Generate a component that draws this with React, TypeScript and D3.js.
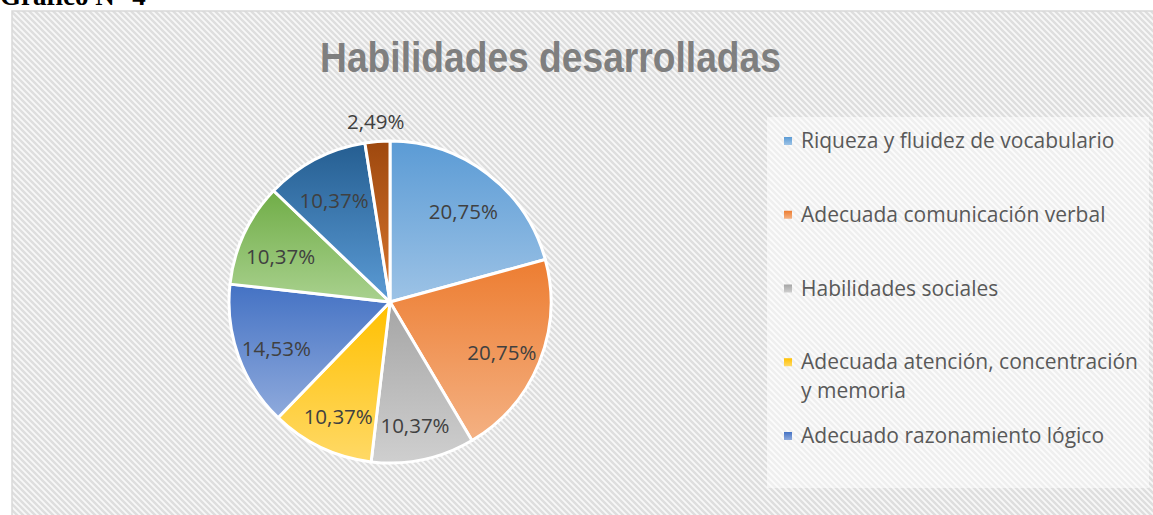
import React, { useEffect, useRef } from "react";
import * as d3 from "d3";

const categories = [
  "Riqueza y fluidez de vocabulario",
  "Adecuada comunicación verbal",
  "Habilidades sociales",
  "Adecuada atención, concentración y memoria",
  "Adecuado razonamiento lógico",
  "",
  "",
  "",
];
const values = [20.75, 20.75, 10.37, 10.37, 14.53, 10.37, 10.37, 2.49];
const labels = ["20,75%", "20,75%", "10,37%", "10,37%", "14,53%", "10,37%", "10,37%", "2,49%"];
const topColors = ["#5B9BD5", "#ED7D31", "#A5A5A5", "#FFC000", "#4472C4", "#70AD47", "#255E91", "#9E480E"];
const bottomColors = ["#9DC3E6", "#F4B183", "#CFCFCF", "#FFD966", "#8FAADC", "#A9D18E", "#5B9BD5", "#D9772F"];
const legendShown = 5;
const title = "Habilidades desarrolladas";
const caption = "Gráfico N° 4";

const W = 1153;
const H = 515;

function wrap(text: string, maxW: number, font: string): string[] {
  const c = document.createElement("canvas").getContext("2d")!;
  c.font = font;
  const words = text.split(" ");
  const lines: string[] = [];
  let cur = "";
  for (const w of words) {
    const t = cur ? cur + " " + w : w;
    if (c.measureText(t).width > maxW && cur) {
      lines.push(cur);
      cur = w;
    } else cur = t;
  }
  if (cur) lines.push(cur);
  return lines;
}

export default function App() {
  const ref = useRef<SVGSVGElement>(null);
  useEffect(() => {
    const svg = d3.select(ref.current!);
    svg.selectAll("*").remove();
    const defs = svg.append("defs");
    const P = 6;
    const pat = defs
      .append("pattern")
      .attr("id", "stripes")
      .attr("patternUnits", "userSpaceOnUse")
      .attr("width", P)
      .attr("height", P);
    pat.append("rect").attr("width", P).attr("height", P).attr("fill", "#f8f8f8");
    pat
      .append("path")
      .attr("d", `M0,0 L${P},${P} M${-P / 2},${P / 2} L${P / 2},${P * 1.5} M${P / 2},${-P / 2} L${P * 1.5},${P / 2}`)
      .attr("stroke", "#dedede")
      .attr("stroke-width", 2.4);

    topColors.forEach((c, i) => {
      const g = defs
        .append("linearGradient")
        .attr("id", "g" + i)
        .attr("x1", 0)
        .attr("y1", 0)
        .attr("x2", 0)
        .attr("y2", 1);
      g.append("stop").attr("offset", "0%").attr("stop-color", c);
      g.append("stop").attr("offset", "100%").attr("stop-color", bottomColors[i]);
    });

    svg.append("rect").attr("width", W).attr("height", H).attr("fill", "#ffffff");
    svg
      .append("rect")
      .attr("x", 12)
      .attr("y", 11)
      .attr("width", W + 10)
      .attr("height", H + 10)
      .attr("fill", "url(#stripes)")
      .attr("stroke", "#d9d9d9")
      .attr("stroke-width", 1.5);

    svg
      .append("text")
      .attr("x", 0)
      .attr("y", 5)
      .attr("font-family", "Liberation Serif, Times New Roman, serif")
      .attr("font-weight", "bold")
      .attr("font-size", 27)
      .attr("fill", "#000")
      .text(caption);

    svg
      .append("text")
      .attr("transform", "translate(550.5,72) scale(0.865,1)")
      .attr("text-anchor", "middle")
      .attr("font-family", "Liberation Sans, Arial, sans-serif")
      .attr("font-weight", "bold")
      .attr("font-size", 43)
      .attr("fill", "#7f7f7f")
      .text(title);

    // legend box
    svg
      .append("rect")
      .attr("x", 767)
      .attr("y", 117)
      .attr("width", 382)
      .attr("height", 371)
      .attr("fill", "#ffffff")
      .attr("opacity", 0.5);

    const cx = 390;
    const cy = 302;
    const r = 161;
    const pie = d3.pie<number>().sort(null).value((d) => d);
    const arcs = pie(values);
    const arc = d3.arc<d3.PieArcDatum<number>>().innerRadius(0).outerRadius(r);
    const lr = r * 0.75;
    const labelArc = d3.arc<d3.PieArcDatum<number>>().innerRadius(lr).outerRadius(lr);
    const outArc = d3.arc<d3.PieArcDatum<number>>().innerRadius(r + 21).outerRadius(r + 21);

    const g = svg.append("g").attr("transform", `translate(${cx},${cy})`);
    g.selectAll("path.slice")
      .data(arcs)
      .join("path")
      .attr("class", "slice")
      .attr("d", arc)
      .attr("fill", (_, i) => `url(#g${i})`)
      .attr("stroke", "#ffffff")
      .attr("stroke-width", 3)
      .attr("stroke-linejoin", "round");

    g.selectAll("text.lbl")
      .data(arcs)
      .join("text")
      .attr("class", "lbl")
      .attr("transform", (d) => {
        const p = d.data < 5 ? outArc.centroid(d) : labelArc.centroid(d);
        return `translate(${p[0]},${p[1] + (d.data < 5 ? 0 : 5)})`;
      })
      .attr("text-anchor", "middle")
      .attr("dominant-baseline", "central")
      .attr("font-family", "Open Sans, sans-serif")
      .attr("font-size", 20.5)
      .attr("fill", "#404040")
      .text((_, i) => labels[i]);

    const legFont = "21px 'Open Sans'";
    const leg = svg.append("g");
    categories.slice(0, legendShown).forEach((name, i) => {
      const y = 141 + i * 73.75;
      leg
        .append("rect")
        .attr("x", 784)
        .attr("y", y - 4)
        .attr("width", 8)
        .attr("height", 8)
        .attr("fill", `url(#g${i})`);
      const lines = wrap(name, 345, legFont);
      const t = leg
        .append("text")
        .attr("x", 801)
        .attr("y", y + 7)
        .attr("font-family", "Open Sans, sans-serif")
        .attr("font-size", 21)
        .attr("fill", "#595959");
      lines.forEach((ln, j) => {
        t.append("tspan").attr("x", 801).attr("dy", j === 0 ? 0 : 29).text(ln);
      });
    });
  }, []);
  return (
    <svg
      ref={ref}
      width={W}
      height={H}
      style={{ position: "absolute", left: 0, top: 0, display: "block" }}
    />
  );
}
